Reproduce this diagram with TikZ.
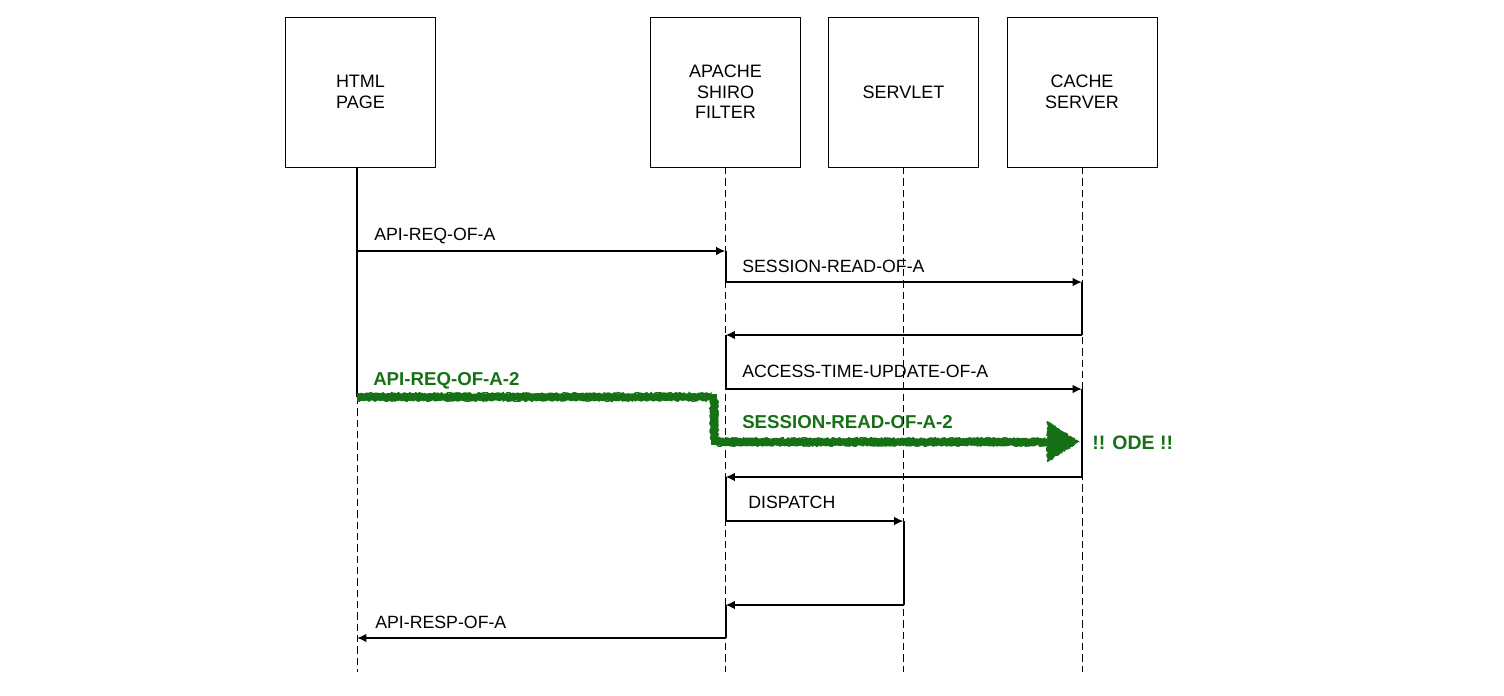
\documentclass[tikz,border=0pt]{standalone}
\usepackage{fontspec}
\setmainfont{Liberation Sans}
\usetikzlibrary{arrows.meta,decorations.pathmorphing}
\definecolor{grn}{RGB}{22,112,22}
\begin{document}
\begin{tikzpicture}[x=0.75pt,y=-0.75pt,
  actor/.style={draw,line width=0.75pt,minimum width=112.5pt,minimum height=112.5pt,align=center,inner sep=0pt,font=\fontsize{13.5}{15.5}\selectfont},
  life/.style={line width=0.75pt,dash pattern=on 5.5pt off 3pt},
  actbar/.style={line width=1.5pt},
  msg/.style={line width=1.5pt,-{Latex[length=7pt,width=6.5pt]}},
  lbl/.style={anchor=west,inner sep=0pt,text height=9.7pt,text depth=0pt,font=\fontsize{13.3}{15.5}\selectfont},
  glbl/.style={lbl,text=grn,font=\fontsize{14}{16}\selectfont\bfseries},
  rough/.style={decorate,decoration={random steps,segment length=1.2pt,amplitude=0.7pt}}
]
\useasboundingbox (0,0) rectangle (1504,696);

% actors
\node[actor] (html) at (360.5,92) {HTML\\PAGE};
\node[actor] (shiro) at (725.5,92) {APACHE\\SHIRO\\FILTER};
\node[actor] (servlet) at (903.5,92) {SERVLET};
\node[actor] (cache) at (1082,92) {CACHE\\SERVER};

% lifeline coordinates
\coordinate (hT) at (357,167);  \coordinate (hG) at (357,397); \coordinate (hB) at (357,672);
\coordinate (sT) at (725.5,167); \coordinate (sB) at (725.5,672);
\coordinate (vT) at (903.5,167); \coordinate (vB) at (903.5,672);
\coordinate (cT) at (1082,167); \coordinate (cB) at (1082,672);

% message points
\coordinate (h1) at (357,251);   \coordinate (s1) at (725.5,251);
\coordinate (s2) at (725.5,282); \coordinate (c2) at (1082,282);
\coordinate (c3) at (1082,335);  \coordinate (s3) at (725.5,335);
\coordinate (s4) at (725.5,389); \coordinate (c4) at (1082,389);
\coordinate (c5) at (1082,477);  \coordinate (s5) at (725.5,477);
\coordinate (s6) at (725.5,521); \coordinate (v6) at (903.5,521);
\coordinate (v7) at (903.5,605); \coordinate (s7) at (725.5,605);
\coordinate (s8) at (725.5,638); \coordinate (h8) at (357,638);

% labels
\node[lbl] (l1) at (374,234) {API-REQ-OF-A};
\node[lbl] (l2) at (742,266) {SESSION-READ-OF-A};
\node[lbl] (l4) at (742,371) {ACCESS-TIME-UPDATE-OF-A};
\node[lbl] (l6) at (748,502) {DISPATCH};
\node[lbl] (l8) at (375,622) {API-RESP-OF-A};
\node[glbl] (g1) at (373,379) {API-REQ-OF-A-2};
\node[glbl] (g2) at (742,422) {SESSION-READ-OF-A-2};
\node[glbl,font=\fontsize{14.6}{16}\selectfont\bfseries] (g3) at (1092,443) {!! ODE !!};

% lifelines
\draw[actbar] (hT) -- (hG);
\draw[life] (hG) -- (hB);
\draw[life] (sT) -- (sB);
\draw[life] (vT) -- (vB);
\draw[life] (cT) -- (cB);

% activations
\draw[actbar] (s1) -- (s2);
\draw[actbar] (c2) -- (c3);
\draw[actbar] (s3) -- (s4);
\draw[actbar] (c4) -- (c5);
\draw[actbar] (s5) -- (s6);
\draw[actbar] (v6) -- (v7);
\draw[actbar] (s7) -- (s8);

% messages
\draw[msg] (h1) -- (s1);
\draw[msg] (s2) -- (c2);
\draw[msg] (c3) -- (s3);
\draw[msg] (s4) -- (c4);
\draw[msg] (c5) -- (s5);
\draw[msg] (s6) -- (v6);
\draw[msg] (v7) -- (s7);
\draw[msg] (s8) -- (h8);

% green rough path
\coordinate (gA) at (357,397);
\coordinate (gB) at (714,397);
\coordinate (gC) at (714,442);
\coordinate (gD) at (1052,442);
\coordinate (gT) at (1080,442);
\draw[grn,line width=4.4pt,line join=miter] (gA) -- (gB) -- (gC) -- (gD);
\draw[grn,line width=1.2pt,rough] ([yshift=-2.5pt]gA) -- ([xshift=2.5pt,yshift=-2.5pt]gB) -- ([xshift=2.5pt,yshift=-2.5pt]gC) -- ([yshift=-2.5pt]gD);
\draw[grn,line width=1.2pt,rough] ([yshift=2.5pt]gA) -- ([xshift=-2.5pt,yshift=2.5pt]gB) -- ([xshift=-2.5pt,yshift=2.5pt]gC) -- ([yshift=2.5pt]gD);
\fill[grn,rough] (1047,421) -- (gT) -- (1047,462) -- cycle;
\end{tikzpicture}
\end{document}
